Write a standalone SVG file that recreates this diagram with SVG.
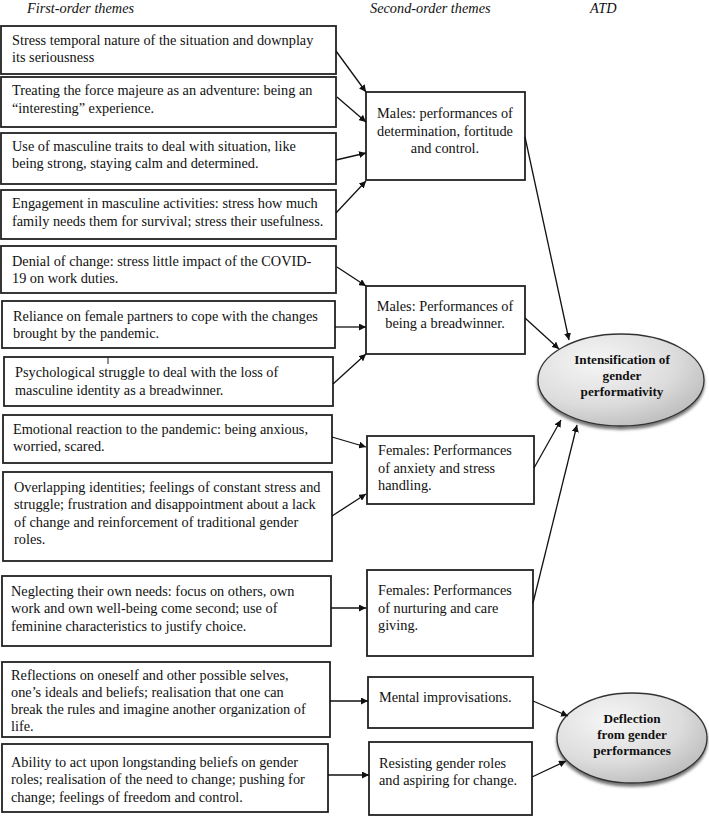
<svg xmlns="http://www.w3.org/2000/svg" width="709" height="817" viewBox="0 0 709 817">
<style>
text{font-family:"Liberation Serif","Times New Roman",serif;font-size:14.3px;fill:#111}
.hd{font-style:italic}
.bx{fill:#fff;stroke:#222;stroke-width:1.8}
.c{text-anchor:middle}
.el{fill:url(#eg);stroke:#333;stroke-width:1.3;filter:url(#sh)}
.et{font-weight:bold;font-size:13.2px;text-anchor:middle}
#connectors line{stroke:#111;stroke-width:1.3;marker-end:url(#ah)}
</style>
<defs>
<marker id="ah" viewBox="0 0 10 10" refX="10" refY="5" markerWidth="7" markerHeight="7" markerUnits="userSpaceOnUse" orient="auto">
<path d="M0,0 L10,5 L0,10 z" fill="#111"/>
</marker>
<radialGradient id="eg" cx="0.35" cy="0.3" r="0.8">
<stop offset="0" stop-color="#f6f6f6"/>
<stop offset="0.6" stop-color="#dcdcdc"/>
<stop offset="1" stop-color="#b8b8b8"/>
</radialGradient>
<filter id="sh" x="-20%" y="-20%" width="140%" height="150%">
<feDropShadow dx="0" dy="3" stdDeviation="1.8" flood-color="#000" flood-opacity="0.55"/>
</filter>
</defs>
<rect width="709" height="817" fill="#fff"/>
<g id="headers">
<text class="hd" x="27" y="13">First-order themes</text>
<text class="hd" x="370" y="13">Second-order themes</text>
<text class="hd" x="590" y="13">ATD</text>
</g>
<g id="b1"><rect class="bx" x="1" y="26" width="335" height="48"/>
<text x="12" y="45">Stress temporal nature of the situation and downplay</text>
<text x="12" y="62">its seriousness</text></g>
<g id="b2"><rect class="bx" x="1" y="77" width="335" height="50"/>
<text x="12" y="95">Treating the force majeure as an adventure: being an</text>
<text x="12" y="113">“interesting” experience.</text></g>
<g id="b3"><rect class="bx" x="1" y="133" width="335" height="51"/>
<text x="12" y="151">Use of masculine traits to deal with situation, like</text>
<text x="12" y="168">being strong, staying calm and determined.</text></g>
<g id="b4"><rect class="bx" x="1" y="190" width="335" height="49"/>
<text x="12" y="208">Engagement in masculine activities: stress how much</text>
<text x="12" y="226">family needs them for survival; stress their usefulness.</text></g>
<g id="b5"><rect class="bx" x="1" y="246" width="335" height="47"/>
<text x="12" y="266">Denial of change: stress little impact of the COVID-</text>
<text x="12" y="283">19 on work duties.</text></g>
<g id="b6"><rect class="bx" x="2" y="301" width="333" height="47"/>
<text x="13" y="321">Reliance on female partners to cope with the changes</text>
<text x="13" y="338">brought by the pandemic.</text></g>
<g id="b7"><rect class="bx" x="4" y="357" width="329" height="49"/>
<line x1="108" y1="357" x2="108" y2="364" stroke="#222" stroke-width="1"/>
<text x="15" y="377">Psychological struggle to deal with the loss of</text>
<text x="15" y="395">masculine identity as a breadwinner.</text></g>
<g id="b8"><rect class="bx" x="3" y="415" width="329" height="48"/>
<text x="13" y="434">Emotional reaction to the pandemic: being anxious,</text>
<text x="13" y="451">worried, scared.</text></g>
<g id="b9"><rect class="bx" x="3" y="472" width="329" height="89"/>
<text x="14" y="492">Overlapping identities; feelings of constant stress and</text>
<text x="14" y="509">struggle; frustration and disappointment about a lack</text>
<text x="14" y="527">of change and reinforcement of traditional gender</text>
<text x="14" y="544">roles.</text></g>
<g id="b10"><rect class="bx" x="2" y="576" width="329" height="70"/>
<text x="11" y="596">Neglecting their own needs: focus on others, own</text>
<text x="11" y="613">work and own well-being come second; use of</text>
<text x="11" y="631">feminine characteristics to justify choice.</text></g>
<g id="b11"><rect class="bx" x="2" y="662" width="328" height="75"/>
<text x="11" y="680">Reflections on oneself and other possible selves,</text>
<text x="11" y="697">one’s ideals and beliefs; realisation that one can</text>
<text x="11" y="714">break the rules and imagine another organization of</text>
<text x="11" y="731">life.</text></g>
<g id="b12"><rect class="bx" x="2" y="744" width="326" height="68"/>
<text x="11" y="767">Ability to act upon longstanding beliefs on gender</text>
<text x="11" y="784">roles; realisation of the need to change; pushing for</text>
<text x="11" y="802">change; feelings of freedom and control.</text></g>
<g id="m1"><rect class="bx" x="366" y="92" width="159" height="88"/>
<text class="c" x="445" y="118">Males: performances of</text>
<text class="c" x="445" y="136">determination, fortitude</text>
<text class="c" x="445" y="153">and control.</text></g>
<g id="m2"><rect class="bx" x="366" y="286" width="159" height="68"/>
<text class="c" x="445" y="311">Males: Performances of</text>
<text class="c" x="445" y="328">being a breadwinner.</text></g>
<g id="m3"><rect class="bx" x="367" y="436" width="167" height="68"/>
<text x="378" y="455">Females: Performances</text>
<text x="378" y="473">of anxiety and stress</text>
<text x="378" y="490">handling.</text></g>
<g id="m4"><rect class="bx" x="367" y="570" width="166" height="86"/>
<text x="378" y="595">Females: Performances</text>
<text x="378" y="613">of nurturing and care</text>
<text x="378" y="630">giving.</text></g>
<g id="m5"><rect class="bx" x="368" y="677" width="165" height="51"/>
<text x="379" y="702">Mental improvisations.</text></g>
<g id="m6"><rect class="bx" x="369" y="742" width="163" height="73"/>
<text x="379" y="768">Resisting gender roles</text>
<text x="379" y="785">and aspiring for change.</text></g>
<g id="e1"><ellipse class="el" cx="621" cy="380" rx="83" ry="46"/>
<text class="et" x="622" y="364">Intensification of</text>
<text class="et" x="622" y="380">gender</text>
<text class="et" x="622" y="396">performativity</text></g>
<g id="e2"><ellipse class="el" cx="632" cy="738" rx="75" ry="45"/>
<text class="et" x="632" y="723">Deflection</text>
<text class="et" x="632" y="739">from gender</text>
<text class="et" x="632" y="755">performances</text></g>
<g id="connectors">
<line x1="336" y1="51" x2="366" y2="92"/>
<line x1="337" y1="97" x2="366" y2="122"/>
<line x1="336" y1="160" x2="366" y2="153"/>
<line x1="336" y1="213" x2="366" y2="181"/>
<line x1="525" y1="137" x2="569" y2="340"/>
<line x1="337" y1="267" x2="366" y2="286"/>
<line x1="335" y1="327" x2="366" y2="327"/>
<line x1="333" y1="384" x2="366" y2="354"/>
<line x1="525" y1="318" x2="559" y2="349"/>
<line x1="332" y1="437" x2="366" y2="447"/>
<line x1="332" y1="516" x2="366" y2="494"/>
<line x1="534" y1="468" x2="561" y2="420"/>
<line x1="331" y1="608" x2="366" y2="608"/>
<line x1="533" y1="603" x2="577" y2="425"/>
<line x1="330" y1="701" x2="368" y2="701"/>
<line x1="533" y1="701" x2="568" y2="716"/>
<line x1="328" y1="775" x2="369" y2="775"/>
<line x1="532" y1="777" x2="566" y2="761"/>
</g>
</svg>
